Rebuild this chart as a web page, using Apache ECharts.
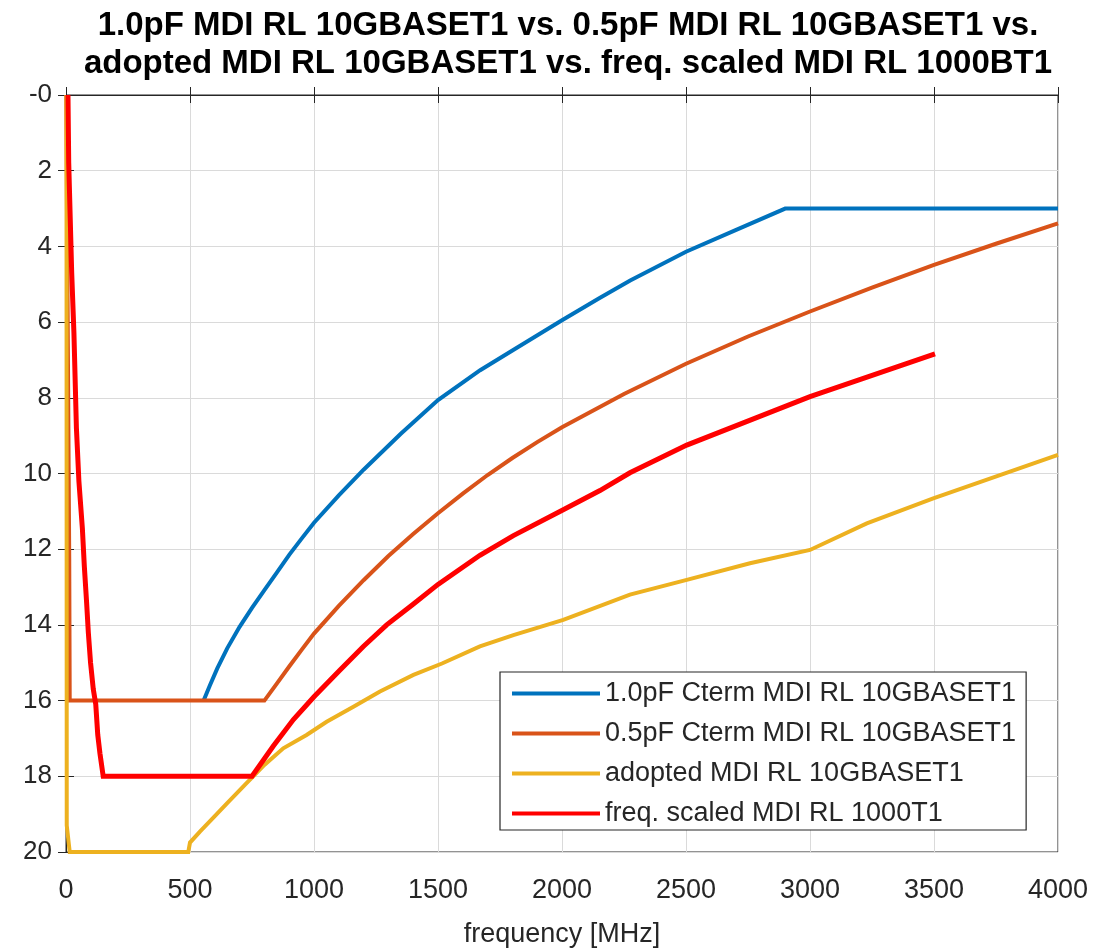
<!DOCTYPE html>
<html>
<head>
<meta charset="utf-8">
<script src="https://cdn.jsdelivr.net/npm/echarts@6/dist/echarts.min.js"></script>
<style>
html,body{margin:0;padding:0;background:#fff;}
#chart{width:1117px;height:948px;}
</style>
</head>
<body>
<div id="chart"></div>
<script>
// ---- data (frequency in MHz, return loss in dB) ----
const seriesNames = [
  '1.0pF Cterm MDI RL 10GBASET1',
  '0.5pF Cterm MDI RL 10GBASET1',
  'adopted MDI RL 10GBASET1',
  'freq. scaled MDI RL 1000T1'
];
const xTicks = [0, 500, 1000, 1500, 2000, 2500, 3000, 3500, 4000];
const yTicks = [0, 2, 4, 6, 8, 10, 12, 14, 16, 18, 20];

const blueFreq = [555, 580, 610, 650, 700, 750, 800, 850, 900, 950, 1000, 1100, 1200, 1350, 1500, 1670, 1800, 2000, 2150, 2275, 2500, 2700, 2900, 4000];
const blueRL   = [16, 15.6, 15.15, 14.62, 14.05, 13.55, 13.08, 12.62, 12.15, 11.72, 11.3, 10.58, 9.9, 8.95, 8.06, 7.27, 6.75, 5.95, 5.37, 4.9, 4.14, 3.57, 3.0, 3.0];

const orangeFreq = [1, 13, 15, 800, 850, 900, 950, 1000, 1100, 1200, 1300, 1400, 1500, 1600, 1700, 1800, 1900, 2000, 2250, 2500, 2750, 3000, 3250, 3500, 3750, 4000];
const orangeRL   = [0, 12.2, 16, 16, 15.55, 15.1, 14.66, 14.23, 13.5, 12.82, 12.18, 11.6, 11.05, 10.53, 10.04, 9.59, 9.17, 8.78, 7.9, 7.1, 6.38, 5.72, 5.09, 4.49, 3.93, 3.39];

const yellowFreq = [2, 3, 15, 493, 500, 540, 600, 650, 728, 755, 800, 876, 970, 1051, 1159, 1266, 1401, 1516, 1669, 1804, 2005, 2274, 2503, 2758, 3000, 3229, 3497, 4000];
const yellowRL   = [0, 19.3, 20, 20, 19.75, 19.46, 19.05, 18.71, 18.18, 18.0, 17.7, 17.26, 16.91, 16.56, 16.16, 15.76, 15.32, 15.02, 14.57, 14.27, 13.87, 13.2, 12.81, 12.37, 12.02, 11.32, 10.66, 9.51];

const redFreq = [8, 11, 23, 32, 42, 52, 66, 74, 83, 90, 99, 110, 120, 128, 137, 150, 750, 836, 917, 1000, 1105, 1199, 1293, 1401, 1500, 1669, 1804, 2005, 2153, 2274, 2503, 3000, 3504];
const redRL   = [0, 1.8, 4.7, 6.3, 8.8, 10.2, 11.45, 12.46, 13.4, 14.2, 15.0, 15.7, 16.1, 16.9, 17.4, 18, 18, 17.2, 16.5, 15.9, 15.19, 14.57, 14.0, 13.45, 12.93, 12.16, 11.64, 10.96, 10.45, 9.98, 9.25, 7.97, 6.84];

const colors = ['#0072BD', '#D95319', '#EDB120', '#FF0000'];

function zip(xs, ys) { return xs.map((x, i) => [x, ys[i]]); }
const allData = [zip(blueFreq, blueRL), zip(orangeFreq, orangeRL), zip(yellowFreq, yellowRL), zip(redFreq, redRL)];
const widths = [4, 4, 4, 5];

const FONT = '"Liberation Sans", Arial, Helvetica, sans-serif';
const AX = '#262626';

const chart = echarts.init(document.getElementById('chart'), null, {renderer: 'canvas'});

const xBase = {
  type: 'value', min: xTicks[0], max: xTicks[xTicks.length - 1], interval: xTicks[1] - xTicks[0]
};
const yBase = {
  type: 'value', inverse: true, min: yTicks[0], max: yTicks[yTicks.length - 1], interval: yTicks[1] - yTicks[0]
};

chart.setOption({
  animation: false,
  backgroundColor: '#ffffff',
  textStyle: {fontFamily: FONT},
  title: {
    text: '1.0pF MDI RL 10GBASET1 vs. 0.5pF MDI RL 10GBASET1 vs.\nadopted MDI RL 10GBASET1 vs. freq. scaled MDI RL 1000BT1',
    left: 563, top: 2, textAlign: 'center',
    textStyle: {fontFamily: FONT, fontSize: 33, fontWeight: 'bold', color: '#000', lineHeight: 38}
  },
  grid: {left: 66, right: 59, top: 95, bottom: 96, show: true, borderColor: AX, borderWidth: 1,
    backgroundColor: 'transparent', containLabel: false, outerBoundsMode: 'none'},
  legend: {
    orient: 'vertical', left: 500, top: 672,
    itemWidth: 88, itemHeight: 4, itemGap: 13, icon: 'rect',
    padding: [8, 10, 3, 12],
    backgroundColor: '#fff', borderColor: AX, borderWidth: 1.2, borderRadius: 0,
    textStyle: {fontFamily: FONT, fontSize: 27, color: '#262626', lineHeight: 27},
    data: seriesNames
  },
  xAxis: [
    Object.assign({}, xBase, {
      position: 'bottom',
      name: 'frequency [MHz]', nameLocation: 'middle', nameGap: 69,
      nameTextStyle: {fontFamily: FONT, fontSize: 27, color: '#262626'},
      axisLine: {show: true, lineStyle: {color: AX, width: 1}},
      axisTick: {show: true, inside: true, length: 8, lineStyle: {color: AX}},
      axisLabel: {fontFamily: FONT, fontSize: 27, color: '#262626', margin: 25,
        formatter: v => String(v)},
      splitLine: {show: true, lineStyle: {color: '#dadada', width: 1}}
    }),
    Object.assign({}, xBase, {
      position: 'top',
      axisLine: {show: true, lineStyle: {color: AX, width: 1}},
      axisTick: {show: true, inside: true, length: 8, lineStyle: {color: AX}},
      axisLabel: {show: false},
      splitLine: {show: false}
    })
  ],
  yAxis: [
    Object.assign({}, yBase, {
      position: 'left',
      axisLine: {show: true, lineStyle: {color: AX, width: 1}},
      axisTick: {show: true, inside: true, length: 8, lineStyle: {color: AX}},
      axisLabel: {fontFamily: FONT, fontSize: 26, color: '#262626', margin: 14,
        formatter: v => (v === 0 ? '-0' : String(v))},
      splitLine: {show: true, lineStyle: {color: '#dadada', width: 1}}
    }),
    Object.assign({}, yBase, {
      position: 'right',
      axisLine: {show: true, lineStyle: {color: AX, width: 1}},
      axisTick: {show: true, inside: true, length: 8, lineStyle: {color: AX}},
      axisLabel: {show: false},
      splitLine: {show: false}
    })
  ],
  series: seriesNames.map((name, i) => ({
    name: name, type: 'line', xAxisIndex: 0, yAxisIndex: 0,
    data: allData[i], showSymbol: false, symbol: 'none', smooth: false,
    color: colors[i],
    lineStyle: {color: colors[i], width: widths[i], join: 'miter', cap: 'butt'},
    z: 2 + i
  }))
});
</script>
</body>
</html>
